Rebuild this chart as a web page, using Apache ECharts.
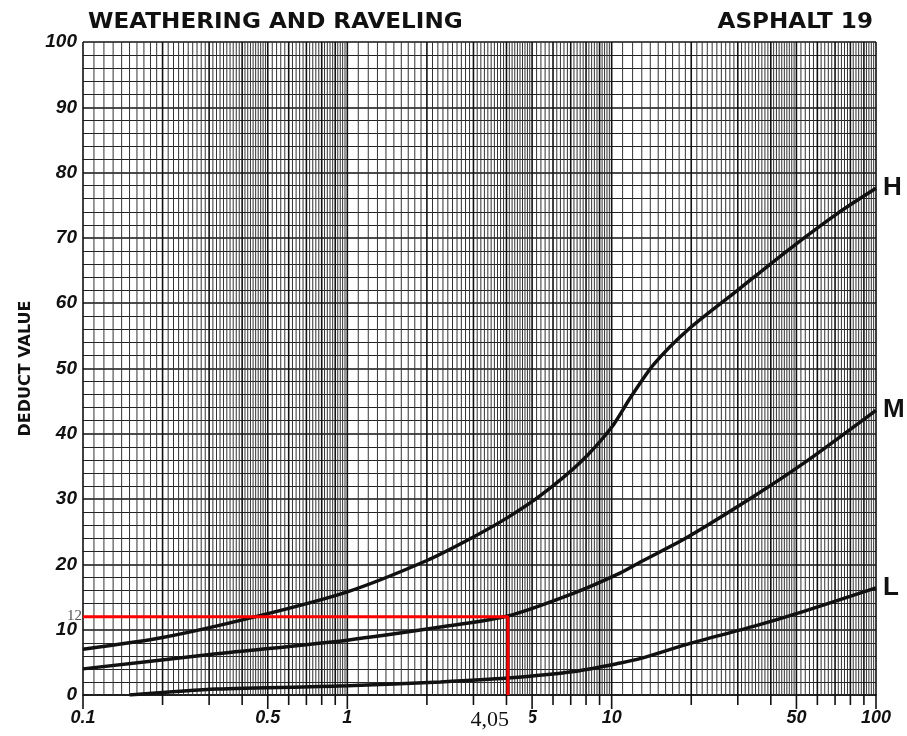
<!DOCTYPE html>
<html>
<head>
<meta charset="utf-8">
<script src="https://cdn.jsdelivr.net/npm/echarts@6/dist/echarts.min.js"></script>
<style>
  html, body { margin: 0; background: #fff; }
  #chart { width: 907px; height: 736px; }
</style>
</head>
<body>
<div id="chart"></div>
<script>
// deduct curves (x = density %, y = deduct value)
const highX = [0.1, 0.2, 0.45, 1, 2, 3, 4.05, 5.4, 7.6, 10, 11.8, 14.4, 19.4, 30, 46.4, 71.8, 100];
const highY = [7, 8.8, 12, 15.8, 20.6, 24.2, 27.2, 30.6, 35.6, 41, 45.6, 50.6, 55.9, 62, 68.1, 73.8, 77.6];
const medX = [0.1, 0.32, 1, 2.25, 4.05, 7.2, 10.8, 12.9, 19.4, 34.4, 53.3, 100];
const medY = [4, 6.3, 8.4, 10.4, 12.1, 15.6, 18.7, 20.4, 24.2, 30.4, 35.5, 43.6];
const lowX = [0.15, 0.32, 1, 2.25, 4.05, 7.2, 10.8, 12.9, 19.4, 34.4, 53.3, 100];
const lowY = [0, 0.9, 1.4, 2.0, 2.6, 3.6, 4.9, 5.6, 7.8, 10.5, 12.8, 16.4];

// red reading lines
const readX = [0.1, 4.05, 4.05];
const readY = [12, 12, 0];
const noteX = [0.1, 4.05];
const noteY = [12, 0];
const noteText = ["12", "4,05"];

// x axis tick labels
const labelValues = [0.1, 0.5, 1, 5, 10, 50, 100];
const labelText = ["0.1", "0.5", "1", "5", "10", "50", "100"];

const decades = [0.1, 1, 10];
const LETTER = '"Liberation Sans", "DejaVu Sans", sans-serif';
const WIDE = '"DejaVu Sans", sans-serif';

// log paper verticals: 1-5 by 0.1, 5-10 by 0.2 in every decade
const paperLines = [];
decades.forEach((d) => {
  for (let k = 10; k < 100; k++) {
    if (k >= 50 && k % 2 === 1) continue;
    paperLines.push([+(d * k / 10).toFixed(4), 0, k % 10 === 0 ? 1 : 0]);
  }
});
paperLines.push([100, 0, 1]);

// ticks under the axis at every integer step
const axisTicks = [];
decades.forEach((d) => {
  for (let k = 1; k <= 10; k++) {
    const v = +(d * k).toFixed(4);
    if (k === 1 && d !== 0.1) continue;
    axisTicks.push([v, 0, k === 1 || k === 5 || k === 10 ? 1 : 0]);
  }
});

const toPairs = (xs, ys) => xs.map((x, i) => [x, ys[i]]);

function curve(name, xs, ys) {
  return {
    name: name,
    type: "line",
    data: toPairs(xs, ys),
    smooth: 0.25,
    symbol: "none",
    z: 4,
    lineStyle: { color: "#111", width: 3.5 },
    endLabel: {
      show: true,
      formatter: name,
      color: "#111",
      fontSize: 26,
      fontWeight: "bold",
      fontFamily: LETTER,
      distance: 7,
    },
  };
}

const chart = echarts.init(document.getElementById("chart"));
chart.setOption({
  animation: false,
  backgroundColor: "#fff",
  graphic: [
    {
      type: "text",
      left: 88,
      top: 12,
      scaleX: 1.1,
      style: {
        text: "WEATHERING AND RAVELING",
        fontSize: 21,
        fontWeight: "bold",
        fontFamily: WIDE,
        fill: "#111",
      },
    },
    {
      type: "text",
      right: 34,
      top: 12,
      scaleX: 1.1,
      style: {
        text: "ASPHALT 19",
        fontSize: 21,
        fontWeight: "bold",
        fontFamily: WIDE,
        fill: "#111",
      },
    },
  ],
  grid: { left: 83, right: 31, top: 42, bottom: 41 },
  xAxis: {
    type: "log",
    logBase: 10,
    min: 0.1,
    max: 100,
    axisLine: { show: true, lineStyle: { color: "#111", width: 1.5 } },
    axisTick: { show: false },
    axisLabel: { show: false },
    splitLine: { show: false },
  },
  yAxis: {
    type: "value",
    min: 0,
    max: 100,
    interval: 10,
    name: "DEDUCT VALUE",
    nameLocation: "middle",
    nameGap: 49,
    nameTextStyle: { fontSize: 16, fontWeight: "bold", fontFamily: WIDE, color: "#111" },
    axisLine: { show: false },
    axisTick: { show: false },
    axisLabel: {
      margin: 6,
      fontSize: 19,
      fontStyle: "italic",
      fontWeight: "bold",
      fontFamily: LETTER,
      color: "#111",
    },
    splitLine: { show: true, lineStyle: { color: "#111", width: 1.6 } },
    minorTick: { show: false, splitNumber: 5 },
    minorSplitLine: { show: true, lineStyle: { color: "#222", width: 1.2 } },
  },
  series: [
    {
      name: "paper",
      type: "custom",
      z: 1,
      silent: true,
      data: paperLines,
      renderItem: (params, api) => {
        const x = api.value(0);
        const a = api.coord([x, 0]);
        const b = api.coord([x, 100]);
        const major = api.value(2) === 1;
        return {
          type: "line",
          shape: { x1: a[0], y1: a[1], x2: b[0], y2: b[1] },
          style: { stroke: major ? "#111" : "#333", lineWidth: major ? 1.6 : 1 },
        };
      },
    },
    {
      name: "ticks",
      type: "custom",
      z: 2,
      silent: true,
      data: axisTicks,
      renderItem: (params, api) => {
        const a = api.coord([api.value(0), 0]);
        const len = api.value(2) === 1 ? 14 : 10;
        return {
          type: "line",
          shape: { x1: a[0], y1: a[1], x2: a[0], y2: a[1] + len },
          style: { stroke: "#111", lineWidth: 1.6 },
        };
      },
    },
    {
      name: "labels",
      type: "custom",
      z: 2,
      silent: true,
      data: labelValues.map((v) => [v, 0]),
      renderItem: (params, api) => {
        const a = api.coord([api.value(0), 0]);
        return {
          type: "text",
          style: {
            text: labelText[params.dataIndex],
            x: a[0],
            y: a[1] + 23,
            align: "center",
            verticalAlign: "middle",
            fontSize: 18,
            fontStyle: "italic",
            fontWeight: "bold",
            fontFamily: LETTER,
            fill: "#111",
          },
        };
      },
    },
    curve("H", highX, highY),
    curve("M", medX, medY),
    curve("L", lowX, lowY),
    {
      name: "reading",
      type: "line",
      data: toPairs(readX, readY),
      symbol: "none",
      z: 5,
      clip: false,
      lineStyle: { color: "#ff0000", width: 3 },
    },
    {
      name: "notes",
      type: "custom",
      z: 6,
      silent: true,
      data: toPairs(noteX, noteY),
      renderItem: (params, api) => {
        const a = api.coord([api.value(0), api.value(1)]);
        if (params.dataIndex === 0) {
          return {
            type: "text",
            style: {
              text: noteText[0],
              x: a[0] - 1,
              y: a[1] - 1,
              align: "right",
              verticalAlign: "middle",
              fontSize: 15,
              fontFamily: '"Liberation Serif", serif',
              fill: "#555",
            },
          };
        }
        return {
          type: "group",
          children: [
            {
              type: "rect",
              shape: { x: a[0] - 50, y: a[1] + 13, width: 71.5, height: 26 },
              style: { fill: "#fff" },
            },
            {
              type: "text",
              style: {
                text: noteText[1],
                x: a[0] + 1,
                y: a[1] + 25,
                align: "right",
                verticalAlign: "middle",
                fontSize: 22,
                fontFamily: '"Liberation Serif", serif',
                fill: "#111",
              },
            },
          ],
        };
      },
    },
  ],
});
</script>
</body>
</html>
